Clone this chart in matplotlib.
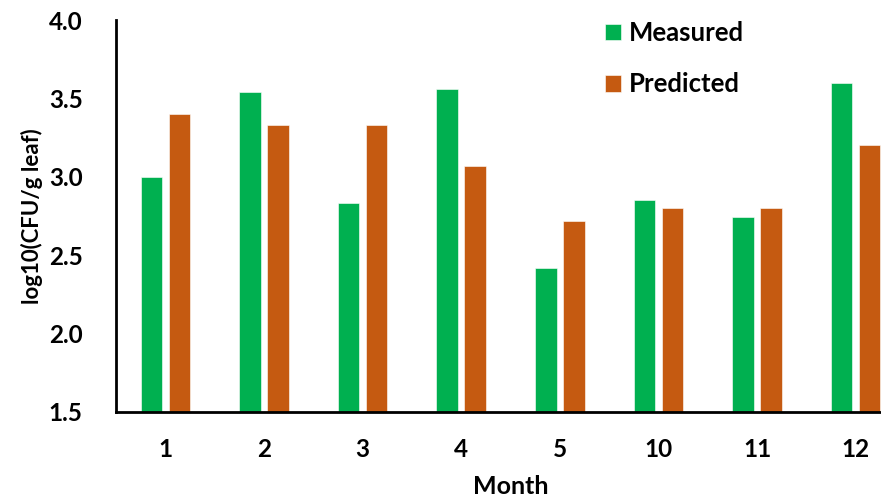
import matplotlib
matplotlib.use("Agg")
import matplotlib.pyplot as plt
import numpy as np

months = ["1", "2", "3", "4", "5", "10", "11", "12"]
measured = [3.00, 3.54, 2.83, 3.56, 2.42, 2.85, 2.74, 3.60]
predicted = [3.40, 3.33, 3.33, 3.07, 2.72, 2.80, 2.80, 3.20]

plt.rcParams['font.family'] = ['Lato', 'DejaVu Sans']
plt.rcParams['font.weight'] = 'bold'

fig = plt.figure(figsize=(8.81, 4.98), dpi=100)
ax = fig.add_axes([116/881, 1 - 411.7/498, (905-116)/881, (411.7-20)/498])

x = np.arange(len(months))
w = 0.218
ax.bar(x - 0.142, np.array(measured) - 1.5, w, bottom=1.5, color="#00B050",
       edgecolor="white", linewidth=0.4, label="Measured")
ax.bar(x + 0.142, np.array(predicted) - 1.5, w, bottom=1.5, color="#C55A11",
       edgecolor="white", linewidth=0.4, label="Predicted")

ax.set_xlim(-0.5, 7.5)
ax.set_ylim(1.5, 4.0)
ax.set_yticks([1.5, 2.0, 2.5, 3.0, 3.5, 4.0])
ax.set_yticklabels(["1.5", "2.0", "2.5", "3.0", "3.5", "4.0"])
ax.set_xticks(x)
ax.set_xticklabels(months)
ax.tick_params(axis='both', length=0, labelsize=17.5)
ax.tick_params(axis='y', pad=24)
ax.tick_params(axis='x', pad=19)

for s in ["top", "right"]:
    ax.spines[s].set_visible(False)
for s in ["left", "bottom"]:
    ax.spines[s].set_linewidth(2)
    ax.spines[s].set_color("black")

ax.set_xlabel("Month", fontsize=18, fontweight='bold', labelpad=10)
ax.set_ylabel("log10(CFU/g leaf)", fontsize=16, fontweight='bold', labelpad=4)

fig.legend(loc="upper left", bbox_to_anchor=(605/881, 1 - 21/498), frameon=False,
           fontsize=18.5, handlelength=0.62, handleheight=0.62, handletextpad=0.3,
           labelspacing=1.07, borderpad=0, borderaxespad=0)

fig.savefig("out.png", dpi=100)
